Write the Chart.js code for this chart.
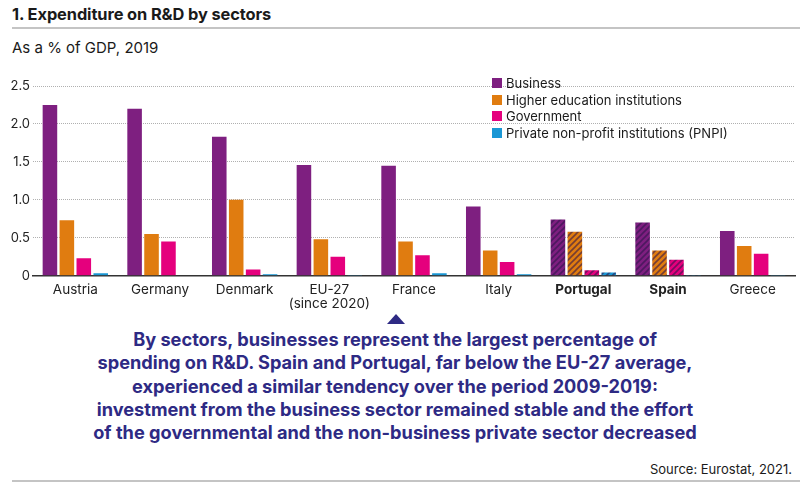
<!DOCTYPE html>
<html lang="en">
  <head>
    <meta charset="UTF-8" />
    <title>Expenditure on R&amp;D by sectors</title>
    <script src="https://cdn.jsdelivr.net/npm/chart.js"></script>
    <style>
      body { margin: 0; background: #fff; font-family: Inter, "Noto Sans", sans-serif; color: #1a1a1a; }
      #page { position: relative; width: 800px; height: 484px; overflow: hidden; }
      #title { position: absolute; left: 12px; top: 4px; font-size: 16.4px; font-weight: 700; letter-spacing: -0.1px; }
      #rule1 { position: absolute; left: 12px; right: 0; top: 27px; height: 2px; background: #c4c4c4; }
      #subtitle { position: absolute; left: 12px; top: 38px; font-size: 15px; }
      #chartBox { position: absolute; left: 0; top: 0; width: 800px; height: 318px; }
      #legend { position: absolute; left: 492px; top: 75px; font-size: 13px; line-height: 16.5px; }
      #legend div { display: flex; align-items: center; }
      #legend span.sw { display: inline-block; width: 10px; height: 10px; margin-right: 4px; }
      #arrow { position: absolute; left: 387px; top: 314px; width: 0; height: 0;
               border-left: 9px solid transparent; border-right: 9px solid transparent; border-bottom: 10px solid #2e2a84; }
      #note { position: absolute; left: 0; width: 790px; top: 328px; text-align: center; color: #2e2a84;
              font-size: 18.2px; font-weight: 700; line-height: 23.3px; letter-spacing: 0; }
      #source { position: absolute; right: 8px; top: 461px; font-size: 13px; }
      #rule2 { position: absolute; left: 12px; right: 0; top: 480px; height: 2px; background: #c4c4c4; }
    </style>
  </head>
  <body>
    <div id="page">
      <div id="title">1. Expenditure on R&amp;D by sectors</div>
      <div id="rule1"></div>
      <div id="subtitle">As a % of GDP, 2019</div>
      <div id="chartBox"><canvas id="rdChart"></canvas></div>
      <div id="legend"></div>
      <div id="arrow"></div>
      <div id="note">By sectors, businesses represent the largest percentage of<br />spending on R&amp;D. Spain and Portugal, far below the EU-27 average,<br />experienced a similar tendency over the period 2009-2019:<br />investment from the business sector remained stable and the effort<br />of the governmental and the non-business private sector decreased</div>
      <div id="source">Source: Eurostat, 2021.</div>
      <div id="rule2"></div>
    </div>
    <script>
      // data
      const countries = ["Austria", "Germany", "Denmark", ["EU-27", "(since 2020)"], "France", "Italy", "Portugal", "Spain", "Greece"];
      const highlighted = ["Portugal", "Spain"];
      const sectorNames = ["Business", "Higher education institutions", "Government", "Private non-profit institutions (PNPI)"];
      const business = [2.25, 2.20, 1.83, 1.46, 1.45, 0.91, 0.74, 0.70, 0.59];
      const higherEd = [0.73, 0.55, 1.00, 0.48, 0.45, 0.33, 0.58, 0.33, 0.39];
      const government = [0.23, 0.45, 0.08, 0.25, 0.27, 0.18, 0.07, 0.21, 0.29];
      const pnpi = [0.03, 0.00, 0.02, 0.01, 0.03, 0.02, 0.04, 0.01, 0.01];
      const yTicks = [0, 0.5, 1.0, 1.5, 2.0, 2.5];

      const sectorColors = ["#7e1f80", "#e07c10", "#e5007d", "#1a97d5"];
      const seriesValues = [business, higherEd, government, pnpi];

      // hatched fill for highlighted countries
      function hatch(color) {
        const c = document.createElement("canvas");
        c.width = 6;
        c.height = 6;
        const g = c.getContext("2d");
        g.fillStyle = color;
        g.fillRect(0, 0, 6, 6);
        g.strokeStyle = "rgba(45, 20, 75, 0.6)";
        g.lineWidth = 1.6;
        g.beginPath();
        g.moveTo(0, 6); g.lineTo(6, 0);
        g.moveTo(-3, 3); g.lineTo(3, -3);
        g.moveTo(3, 9); g.lineTo(9, 3);
        g.stroke();
        return g.createPattern(c, "repeat");
      }

      const labelName = (l) => (Array.isArray(l) ? l[0] : l);

      const datasets = sectorNames.map((name, i) => {
        const pat = hatch(sectorColors[i]);
        return {
          label: name,
          data: seriesValues[i],
          backgroundColor: countries.map((c) => (highlighted.includes(labelName(c)) ? pat : sectorColors[i])),
          borderWidth: 0,
          categoryPercentage: 0.8,
          barPercentage: 0.86,
        };
      });

      // html legend
      const legendEl = document.getElementById("legend");
      sectorNames.forEach((n, i) => {
        const row = document.createElement("div");
        row.innerHTML = '<span class="sw" style="background:' + sectorColors[i] + '"></span>' + n;
        legendEl.appendChild(row);
      });

      const ctx = document.getElementById("rdChart").getContext("2d");
      new Chart(ctx, {
        type: "bar",
        data: { labels: countries, datasets: datasets },
        options: {
          responsive: true,
          maintainAspectRatio: false,
          animation: false,
          layout: { padding: { top: 86, left: 0, right: 5, bottom: 0 } },
          plugins: { legend: { display: false }, tooltip: { enabled: false } },
          scales: {
            x: {
              grid: { display: false, drawTicks: false },
              border: { display: true, color: "#333", width: 1.5 },
              ticks: {
                color: "#222",
                padding: 7,
                maxRotation: 0,
                minRotation: 0,
                autoSkip: false,
                font: (c) => {
                  const lab = labelName(countries[c.index]);
                  return { family: "Inter", size: 13.5, weight: highlighted.includes(lab) ? "bold" : "normal", lineHeight: 1.05 };
                },
              },
            },
            y: {
              min: 0,
              max: 2.5,
              afterBuildTicks: (s) => { s.ticks = yTicks.map((v) => ({ value: v })); },
              afterFit: (s) => { s.width = 33; },
              grid: { color: "#b0b0b0", drawTicks: false, lineWidth: 1 },
              border: { display: false, dash: [1, 1] },
              ticks: {
                color: "#222",
                padding: 3,
                font: { family: "Inter", size: 13 },
                callback: (v) => (v === 0 ? "0" : v.toFixed(1)),
              },
            },
          },
        },
      });
    </script>
  </body>
</html>
